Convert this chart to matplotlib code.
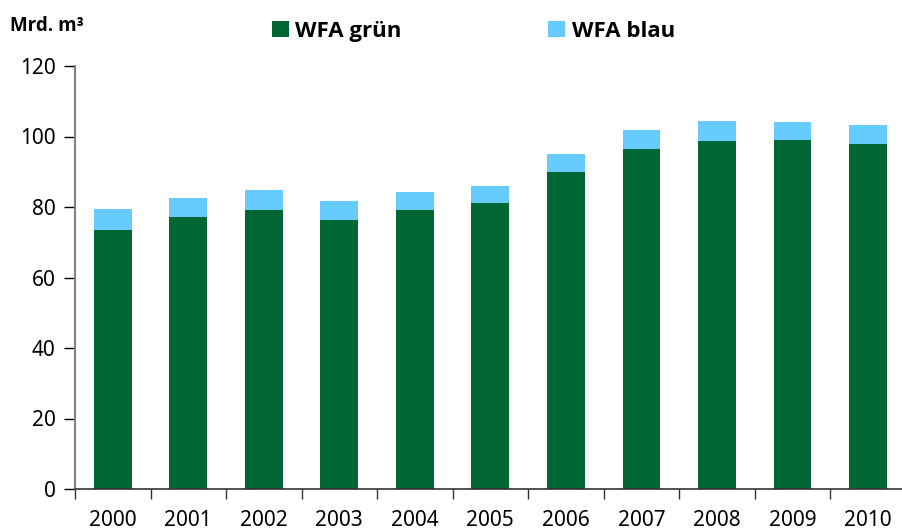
import matplotlib.pyplot as plt
import numpy as np

years = ['2000', '2001', '2002', '2003', '2004', '2005',
         '2006', '2007', '2008', '2009', '2010']
wfa_gruen = [73.5, 77.2, 79.1, 76.3, 79.1, 81.1, 89.9, 96.5, 98.7, 99.0, 97.9]
wfa_total = [79.4, 82.6, 84.8, 81.7, 84.3, 86.0, 95.0, 101.8, 104.4, 104.1, 103.3]
wfa_blau = [t - g for t, g in zip(wfa_total, wfa_gruen)]

plt.rcParams['font.family'] = ['Noto Sans', 'DejaVu Sans']
bold_font = ['Open Sans', 'DejaVu Sans']

fig = plt.figure(figsize=(9.03, 5.31), dpi=100)
ax = fig.add_axes([75 / 903, 42 / 531, 830.75 / 903, 423 / 531])

x = np.arange(len(years))
ax.bar(x, wfa_gruen, width=0.5, color='#006633', label='WFA grün')
ax.bar(x, wfa_blau, width=0.5, bottom=wfa_gruen, color='#66CCFF', label='WFA blau')

ax.set_xlim(-0.5, len(years) - 0.5)
ax.set_ylim(0, 120)
ax.set_yticks(range(0, 121, 20))
ax.tick_params(axis='y', labelsize=15, length=8, width=1, pad=6)
ax.set_xticks(x)
ax.set_xticklabels(years)
ax.set_xticks(np.arange(-0.5, len(years), 1), minor=True)
ax.tick_params(axis='x', which='major', length=0, labelsize=15, pad=15)
ax.tick_params(axis='x', which='minor', length=7, width=1, color='#333333')

for s in ['top', 'right']:
    ax.spines[s].set_visible(False)
ax.spines['left'].set_color('#808080')
ax.spines['left'].set_linewidth(1.5)
ax.spines['bottom'].set_color('#333333')
ax.spines['bottom'].set_linewidth(1.2)

fig.text(10 / 903, 1 - 31 / 531, 'Mrd. m³', fontsize=13.5, fontweight='bold',
         family=bold_font)
fig.legend(loc='upper left', bbox_to_anchor=(263 / 903, 1 - 12 / 531), ncol=2,
           frameon=False, prop={'size': 16, 'weight': 'bold', 'family': bold_font},
           handlelength=0.75, handleheight=0.75, handletextpad=0.3,
           columnspacing=6.6, borderaxespad=0)

fig.savefig('out.png', dpi=100)
